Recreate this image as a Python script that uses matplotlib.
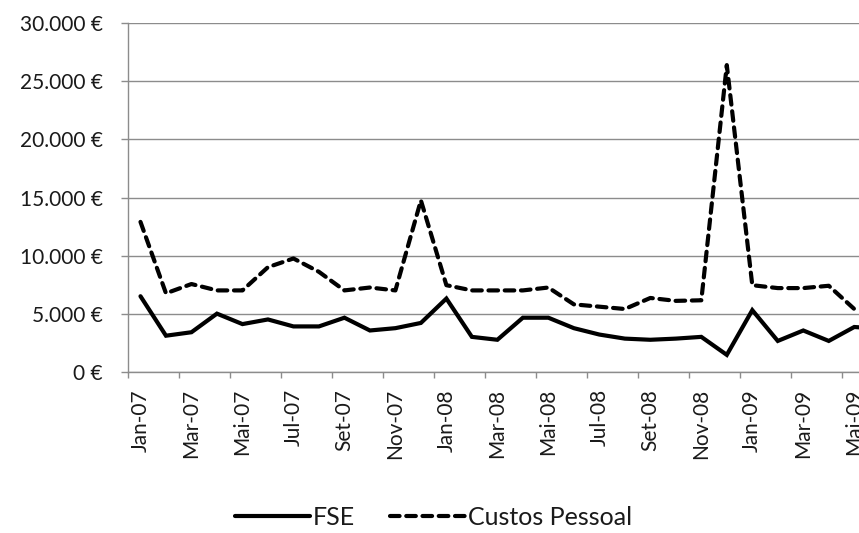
import matplotlib
matplotlib.use('Agg')
import matplotlib.pyplot as plt
from matplotlib.ticker import FuncFormatter, FixedLocator

plt.rcParams['font.family'] = ['Lato', 'DejaVu Sans']

# meses Jan-07 .. Jun-09
month_names = ['Jan', 'Fev', 'Mar', 'Abr', 'Mai', 'Jun',
               'Jul', 'Ago', 'Set', 'Out', 'Nov', 'Dez']
years = ['07', '08', '09']
months = [f'{m}-{y}' for y in years for m in month_names][:30]

fse = [6500, 3100, 3400, 5000, 4100, 4500, 3900, 3900, 4650, 3550,
       3750, 4200, 6300, 3000, 2750, 4650, 4650, 3750, 3200, 2850,
       2750, 2850, 3000, 1450, 5300, 2650, 3550, 2650, 3850, 3700]
custos_pessoal = [12900, 6750, 7550, 7000, 7000, 9000, 9750, 8600, 7000, 7250,
                  7000, 14750, 7450, 7000, 7000, 7000, 7250, 5800, 5600, 5400,
                  6350, 6100, 6150, 26400, 7450, 7200, 7200, 7400, 5400, 5000]

text_color = '#1a1a1a'
grid_color = '#8c8c8c'

fig = plt.figure(figsize=(8.59, 5.33), dpi=100)
# plot area runs past the right edge, like the cropped original
ax = fig.add_axes([0.1487, 0.3026, 1.039 - 0.1487, 0.6537])

x = list(range(len(months)))
line_fse, = ax.plot(x, fse, color='black', lw=3.0, solid_capstyle='round',
                    solid_joinstyle='miter', label='FSE')
line_cp, = ax.plot(x, custos_pessoal, color='black', lw=3.0,
                   linestyle=(0, (2.3, 1.6)), dash_capstyle='round',
                   label='Custos Pessoal')

ax.set_xlim(-0.5, len(months) - 0.5)
ax.set_ylim(0, 30000)
ax.set_yticks(range(0, 30001, 5000))
ax.yaxis.set_major_formatter(
    FuncFormatter(lambda v, p: f'{int(v):,} €'.replace(',', '.')))
ax.yaxis.grid(True, color=grid_color, lw=1.0)
ax.set_axisbelow(True)

# ticks on category boundaries, labels on every second month
ax.xaxis.set_major_locator(FixedLocator([i - 0.5 for i in range(0, len(months) + 1, 2)]))
ax.xaxis.set_major_formatter(FuncFormatter(lambda v, p: ''))
ax.xaxis.set_minor_locator(FixedLocator(list(range(0, len(months), 2))))
ax.set_xticklabels([months[i] for i in range(0, len(months), 2)], minor=True,
                   rotation=90)
ax.tick_params(axis='x', which='major', length=4.5, width=1, color=grid_color)
ax.tick_params(axis='x', which='minor', length=0, pad=12.5, labelsize=15,
               labelcolor=text_color)
ax.tick_params(axis='y', length=5, width=1, color=grid_color, pad=13,
               labelsize=15, labelcolor=text_color)

for side in ['top', 'right']:
    ax.spines[side].set_visible(False)
for side in ['left', 'bottom']:
    ax.spines[side].set_color(grid_color)
    ax.spines[side].set_linewidth(1.0)

fig.legend(handles=[line_fse, line_cp], loc='center',
           bbox_to_anchor=(0.505, 0.030), ncol=2, frameon=False,
           fontsize=18, handlelength=3.0, handletextpad=0.12,
           columnspacing=1.4, labelcolor=text_color)

fig.savefig('out.png', dpi=100)
